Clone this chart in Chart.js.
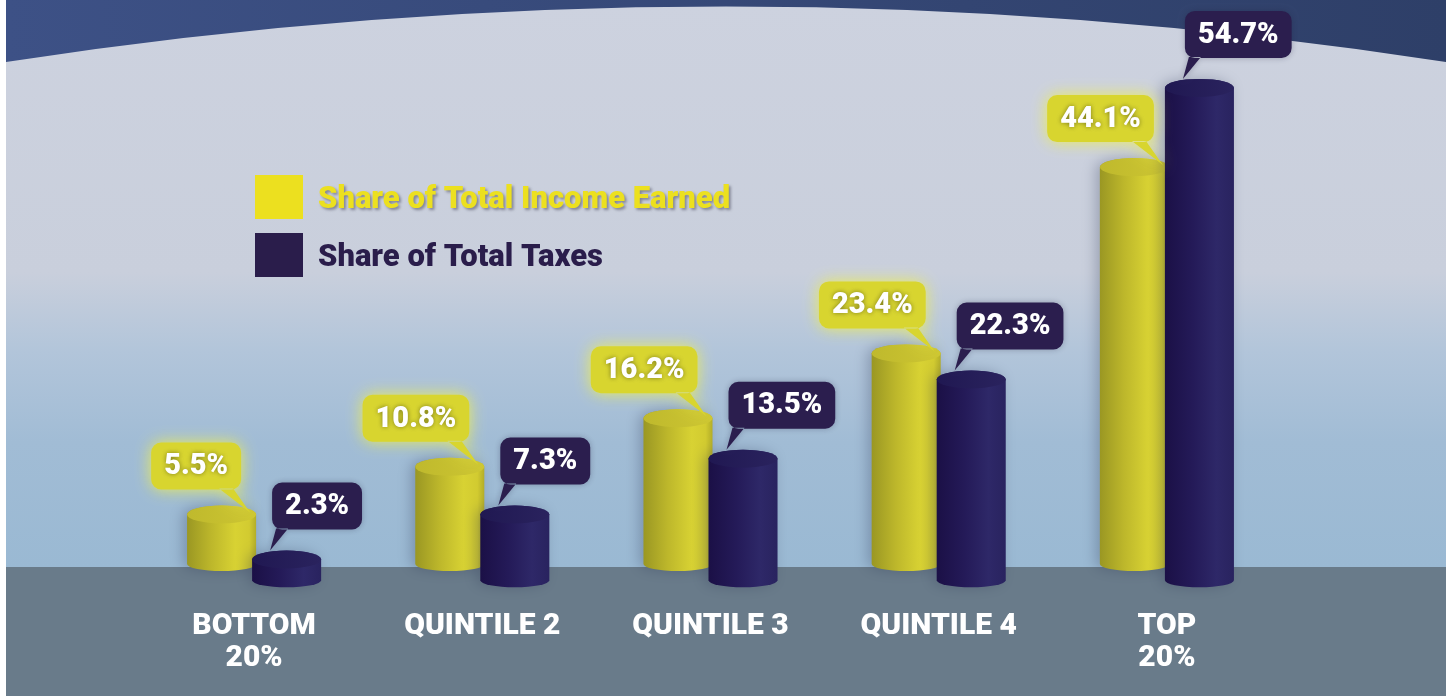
<!DOCTYPE html>
<html>
<head>
<meta charset="utf-8">
<script src="https://cdn.jsdelivr.net/npm/chart.js@4.4.1/dist/chart.umd.min.js"></script>
<style>
  html, body { margin: 0; padding: 0; background: #fff; }
  canvas { display: block; }
</style>
</head>
<body>
<canvas id="taxChart" width="1451" height="696"></canvas>
<script>
// data
const categories = [["BOTTOM", "20%"], ["QUINTILE 2"], ["QUINTILE 3"], ["QUINTILE 4"], ["TOP", "20%"]];
const incomeShare = [5.5, 10.8, 16.2, 23.4, 44.1];
const taxShare = [2.3, 7.3, 13.5, 22.3, 54.7];
const seriesNames = ["Share of Total Income Earned", "Share of Total Taxes"];

const YELLOW = "#ece01f";
const NAVY = "#2a1d4b";

const looks = [
    {
        body: [[0, "#9a9723"], [0.35, "#bdb72b"], [0.7, "#d8d233"], [0.9, "#d2cb30"], [1, "#b3ad28"]],
        top: ["#bfb92d", "#cdc631"],
    },
    {
        body: [[0, "#1b1046"], [0.4, "#241a58"], [0.75, "#2e2868"], [1, "#29235f"]],
        top: ["#201852", "#2a235e"],
    },
];

function drawCylinder(ctx, cx, top, base, w, look) {
    const rx = w / 2, ryTop = 9, ryBot = 7;
    const left = cx - rx, right = cx + rx;
    const g = ctx.createLinearGradient(left, 0, right, 0);
    look.body.forEach(([s, c]) => g.addColorStop(s, c));
    ctx.save();
    ctx.beginPath();
    ctx.moveTo(left, top);
    ctx.lineTo(left, base);
    ctx.ellipse(cx, base, rx, ryBot, 0, Math.PI, 0, true);
    ctx.lineTo(right, top);
    ctx.ellipse(cx, top, rx, ryTop, 0, 0, Math.PI, true);
    ctx.closePath();
    ctx.shadowColor = "rgba(40,50,80,0.3)";
    ctx.shadowBlur = 14;
    ctx.shadowOffsetX = -4;
    ctx.fillStyle = g;
    ctx.fill();
    ctx.restore();

    const tg = ctx.createLinearGradient(left, 0, right, 0);
    tg.addColorStop(0, look.top[0]);
    tg.addColorStop(1, look.top[1]);
    ctx.beginPath();
    ctx.ellipse(cx, top, rx, ryTop, 0, 0, Math.PI * 2);
    ctx.fillStyle = tg;
    ctx.fill();
}

function roundBox(ctx, x, y, w, h, r) {
    ctx.moveTo(x + r, y);
    ctx.arcTo(x + w, y, x + w, y + h, r);
    ctx.arcTo(x + w, y + h, x, y + h, r);
    ctx.arcTo(x, y + h, x, y, r);
    ctx.arcTo(x, y, x + w, y, r);
    ctx.closePath();
}

const CALLOUT_FONT = "900 29px Roboto";

function drawCallout(ctx, text, bar, isTax) {
    ctx.save();
    ctx.font = CALLOUT_FONT;
    const tw = ctx.measureText(text).width;
    const bw = tw + 26, bh = 47;
    const barLeft = bar.x - bar.width / 2 - 2;
    const barRight = bar.x + bar.width / 2 + 2;
    let bx, by, tail;
    if (isTax) {
        bx = barLeft + 20;
        by = bar.y - 30 - bh;
        tail = [[bx + 4, by + bh - 1], [bx + 16, by + bh - 1], [barLeft + 18, bar.y - 9]];
    } else {
        bx = barRight - 15 - bw;
        by = bar.y - 25 - bh;
        tail = [[bx + bw - 22, by + bh - 1], [bx + bw - 8, by + bh - 1], [barRight - 6, bar.y - 2]];
    }
    ctx.beginPath();
    roundBox(ctx, bx, by, bw, bh, 10);
    ctx.moveTo(tail[0][0], tail[0][1]);
    ctx.lineTo(tail[2][0], tail[2][1]);
    ctx.lineTo(tail[1][0], tail[1][1]);
    ctx.closePath();
    if (isTax) {
        ctx.shadowColor = "rgba(30,30,60,0.3)";
        ctx.shadowBlur = 6;
        ctx.fillStyle = "#2b1e4e";
    } else {
        ctx.shadowColor = "rgba(238,238,80,0.95)";
        ctx.shadowBlur = 16;
        ctx.fillStyle = "#d8d52f";
    }
    ctx.fill();
    ctx.restore();

    ctx.save();
    ctx.font = CALLOUT_FONT;
    ctx.fillStyle = "#fff";
    ctx.textAlign = "center";
    ctx.textBaseline = "middle";
    if (!isTax) {
        ctx.shadowColor = "rgba(90,90,20,0.75)";
        ctx.shadowBlur = 5;
    }
    ctx.fillText(text, bx + bw / 2, by + bh / 2 + 1);
    ctx.restore();
}

const backdrop = {
    id: "backdrop",
    beforeDraw(chart) {
        const ctx = chart.ctx;
        ctx.save();
        ctx.fillStyle = "#fff";
        ctx.fillRect(0, 0, chart.width, chart.height);
        const sky = ctx.createLinearGradient(0, 0, 0, 567);
        sky.addColorStop(0, "#cdd2df");
        sky.addColorStop(0.48, "#c9cfdc");
        sky.addColorStop(0.62, "#b2c5da");
        sky.addColorStop(0.78, "#a1bcd5");
        sky.addColorStop(1, "#9ab9d3");
        ctx.fillStyle = sky;
        ctx.fillRect(6, 0, 1440, 567);
        ctx.fillStyle = "#697b8a";
        ctx.fillRect(6, 567, 1440, 129);
        const arc = ctx.createLinearGradient(6, 0, 1446, 0);
        arc.addColorStop(0, "#3d5186");
        arc.addColorStop(1, "#2e3f68");
        ctx.beginPath();
        ctx.moveTo(6, 0);
        ctx.lineTo(6, 62);
        ctx.quadraticCurveTo(726, -49, 1446, 62);
        ctx.lineTo(1446, 0);
        ctx.closePath();
        ctx.fillStyle = arc;
        ctx.fill();
        ctx.restore();
    },
};

const cylinders = {
    id: "cylinders",
    afterDatasetsDraw(chart) {
        const ctx = chart.ctx;
        chart.data.datasets.forEach((ds, i) => {
            chart.getDatasetMeta(i).data.forEach((bar) => {
                drawCylinder(ctx, bar.x, bar.y, bar.base, bar.width + 4, looks[i]);
            });
        });
        chart.data.datasets.forEach((ds, i) => {
            chart.getDatasetMeta(i).data.forEach((bar, j) => {
                drawCallout(ctx, ds.data[j].toFixed(1) + "%", bar, i === 1);
            });
        });

        // legend, first line stretched to about 415px like the original
        const swatch = [YELLOW, NAVY];
        ctx.save();
        ctx.font = "900 28px Roboto";
        const size = Math.round(28 * 415 / ctx.measureText(seriesNames[0]).width);
        ctx.font = "900 " + Math.min(size, 31) + "px Roboto";
        ctx.textBaseline = "middle";
        seriesNames.forEach((name, i) => {
            const y = 175 + i * 58;
            ctx.fillStyle = swatch[i];
            ctx.fillRect(255, y, 48, 44);
            ctx.save();
            if (i === 0) {
                ctx.shadowColor = "rgba(70,70,90,0.55)";
                ctx.shadowBlur = 3;
                ctx.shadowOffsetX = 2;
                ctx.shadowOffsetY = 2;
            }
            ctx.fillText(name, 318, y + 25);
            ctx.restore();
        });
        ctx.restore();

        // category labels
        const xs = chart.scales.x;
        ctx.save();
        ctx.font = "900 30px Roboto";
        ctx.fillStyle = "#fff";
        ctx.textAlign = "center";
        ctx.textBaseline = "middle";
        categories.forEach((lines, j) => {
            const x = xs.getPixelForValue(j);
            lines.forEach((t, k) => ctx.fillText(t, x, 626 + k * 32));
        });
        ctx.restore();
    },
};

new Chart(document.getElementById("taxChart"), {
    type: "bar",
    data: {
        labels: categories,
        datasets: [
            {
                label: seriesNames[0],
                data: incomeShare,
                yAxisID: "y",
                backgroundColor: "rgba(0,0,0,0)",
            },
            {
                label: seriesNames[1],
                data: taxShare,
                yAxisID: "y2",
                backgroundColor: "rgba(0,0,0,0)",
            },
        ],
    },
    options: {
        responsive: false,
        animation: false,
        categoryPercentage: 0.57,
        barPercentage: 1,
        layout: { padding: { left: 140, right: 170, top: 24, bottom: 132 } },
        scales: {
            x: { display: false },
            y: { display: false, min: 0, max: 60 },
            y2: { display: false, min: 1.8, max: 61.8 },
        },
        plugins: {
            legend: { display: false },
            tooltip: { enabled: false },
        },
    },
    plugins: [backdrop, cylinders],
});
</script>
</body>
</html>
